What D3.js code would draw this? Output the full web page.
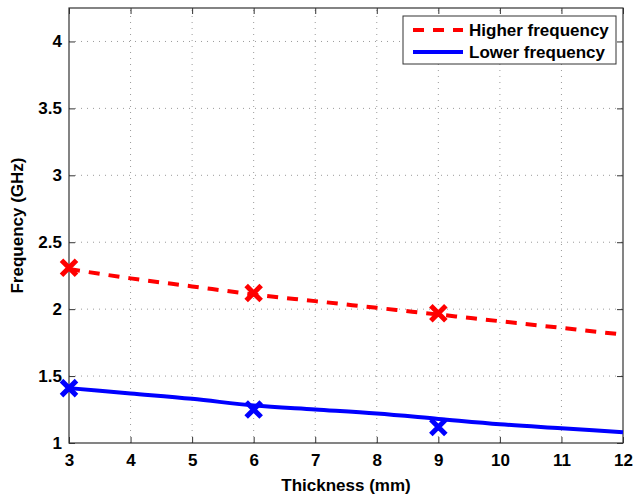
<!DOCTYPE html>
<html>
<head>
<meta charset="utf-8">
<script src="https://cdn.jsdelivr.net/npm/d3@7"></script>
<style>
  html, body { margin: 0; padding: 0; background: #fff; }
  svg { display: block; font-family: "Liberation Sans", Arial, Helvetica, sans-serif; }
</style>
</head>
<body>
<svg id="chart" width="634" height="497"></svg>
<script>
// Fitted curves sampled at each thickness (mm)
const fitThickness = [3, 4, 5, 6, 7, 8, 9, 10, 11, 12];
const higherFit = [2.30, 2.23, 2.17, 2.11, 2.06, 2.01, 1.96, 1.91, 1.86, 1.81];
const lowerFit  = [1.41, 1.37, 1.33, 1.28, 1.25, 1.22, 1.18, 1.14, 1.11, 1.08];

// Measured points
const measThickness = [3, 6, 9];
const higherMeas = [2.31, 2.12, 1.97];
const lowerMeas  = [1.41, 1.25, 1.12];

const xTicks = [3, 4, 5, 6, 7, 8, 9, 10, 11, 12];
const yTicks = [1, 1.5, 2, 2.5, 3, 3.5, 4];
const seriesNames = ["Higher frequency", "Lower frequency"];

const svg = d3.select("#chart");
const margin = { left: 69, right: 11, top: 8, bottom: 54 };
const W = 634, H = 497;
const FS = 17;

const x = d3.scaleLinear().domain([3, 12]).range([margin.left, W - margin.right]);
const y = d3.scaleLinear().domain([1, 4.25]).range([H - margin.bottom, margin.top]);

const x0 = x.range()[0], x1 = x.range()[1];
const y0 = y.range()[0], y1 = y.range()[1];

// Dotted grid
const grid = svg.append("g");
grid.selectAll(".gx").data(xTicks.slice(1, -1)).join("line")
  .attr("x1", d => x(d)).attr("x2", d => x(d))
  .attr("y1", y0).attr("y2", y1)
  .attr("stroke", "#9a9a9a").attr("stroke-width", 1).attr("stroke-dasharray", "1,5");
grid.selectAll(".gy").data(yTicks.slice(1)).join("line")
  .attr("y1", d => y(d)).attr("y2", d => y(d))
  .attr("x1", x0).attr("x2", x1)
  .attr("stroke", "#9a9a9a").attr("stroke-width", 1).attr("stroke-dasharray", "1,5");

// Axes: bottom/left with labels, top/right tick marks only (inward)
const tickStyle = g => {
  g.select(".domain").remove();
  g.selectAll(".tick line").attr("stroke", "#333").attr("stroke-width", 1);
  g.selectAll("text").attr("fill", "#000").attr("font-size", FS).attr("font-weight", "bold");
};
svg.append("g").attr("transform", `translate(0,${y0})`)
  .call(d3.axisBottom(x).tickValues(xTicks).tickFormat(d3.format("d")).tickSizeInner(-6).tickPadding(11))
  .call(tickStyle);
svg.append("g").attr("transform", `translate(${x0},0)`)
  .call(d3.axisLeft(y).tickValues(yTicks).tickFormat(d => d3.format("")(d)).tickSizeInner(-6).tickPadding(7))
  .call(tickStyle);
svg.append("g").attr("transform", `translate(0,${y1})`)
  .call(d3.axisTop(x).tickValues(xTicks).tickFormat("").tickSizeInner(-6))
  .call(tickStyle);
svg.append("g").attr("transform", `translate(${x1},0)`)
  .call(d3.axisRight(y).tickValues(yTicks).tickFormat("").tickSizeInner(-6))
  .call(tickStyle);

// Frame
svg.append("rect").attr("x", x0).attr("y", y1).attr("width", x1 - x0).attr("height", y0 - y1)
  .attr("fill", "none").attr("stroke", "#333").attr("stroke-width", 1.2);

// Curves
const line = d3.line().x(d => x(d[0])).y(d => y(d[1])).curve(d3.curveMonotoneX);
const plot = svg.append("g");

plot.append("path").datum(d3.zip(fitThickness, higherFit))
  .attr("d", line).attr("fill", "none").attr("stroke", "#ff0000")
  .attr("stroke-width", 4).attr("stroke-dasharray", "11,9");
plot.append("path").datum(d3.zip(fitThickness, lowerFit))
  .attr("d", line).attr("fill", "none").attr("stroke", "#0000ff")
  .attr("stroke-width", 4);

// Cross markers
function crosses(values, color) {
  const s = 7.5;
  plot.selectAll(null).data(d3.zip(measThickness, values)).join("path")
    .attr("d", d => {
      const cx = x(d[0]), cy = y(d[1]);
      return `M${cx - s},${cy - s}L${cx + s},${cy + s}M${cx - s},${cy + s}L${cx + s},${cy - s}`;
    })
    .attr("stroke", color).attr("stroke-width", 5).attr("stroke-linecap", "butt").attr("fill", "none");
}
crosses(higherMeas, "#ff0000");
crosses(lowerMeas, "#0000ff");

// Axis titles
svg.append("text").attr("x", (x0 + x1) / 2).attr("y", 491)
  .attr("text-anchor", "middle").attr("font-size", FS).attr("font-weight", "bold")
  .text("Thickness (mm)");
svg.append("text").attr("transform", `translate(23,${(y0 + y1) / 2}) rotate(-90)`)
  .attr("text-anchor", "middle").attr("font-size", FS).attr("font-weight", "bold")
  .text("Frequency (GHz)");

// Legend
const lg = svg.append("g").attr("transform", "translate(403,16)");
lg.append("rect").attr("width", 213).attr("height", 48)
  .attr("fill", "#fff").attr("stroke", "#333").attr("stroke-width", 1);
const styles = [
  { color: "#ff0000", dash: "11,9" },
  { color: "#0000ff", dash: null }
];
seriesNames.forEach((name, i) => {
  const cy = 14 + i * 22;
  lg.append("line").attr("x1", 10).attr("x2", 60).attr("y1", cy).attr("y2", cy)
    .attr("stroke", styles[i].color).attr("stroke-width", 4)
    .attr("stroke-dasharray", styles[i].dash);
  lg.append("text").attr("x", 66).attr("y", cy + 6)
    .attr("font-size", FS).attr("font-weight", "bold").text(name);
});
</script>
</body>
</html>
